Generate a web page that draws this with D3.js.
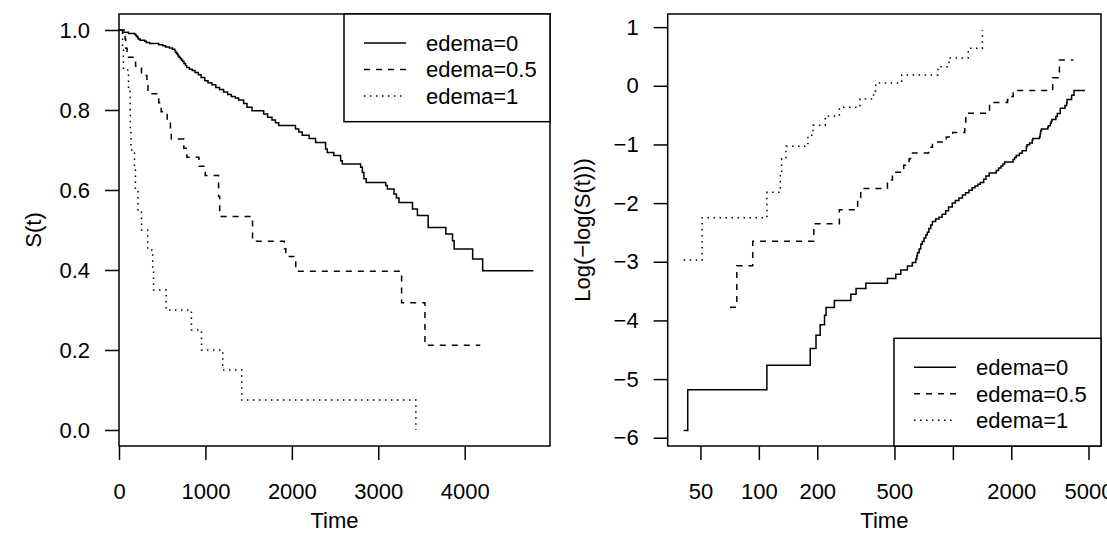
<!DOCTYPE html>
<html><head><meta charset="utf-8">
<script src="https://cdn.jsdelivr.net/npm/d3@7"></script>
<style>
body{margin:0;background:#fff}
text{font-family:"Liberation Sans",Arial,Helvetica,sans-serif;fill:#000}
</style>
</head><body>
<svg id="c" width="1107" height="551"></svg>
<script>
// ---------------- data ----------------
const groups = ["edema=0", "edema=0.5", "edema=1"];

const time0 = [41,43,110,184,197,207,218,222,245,298,317,356,460,508,539,583,618,644,652,657,
  670,683,695,710,725,738,752,769,784,815,848,880,918,950,993,1030,1075,1120,1163,1210,1257,1300,
  1346,1384,1442,1481,1539,1674,1720,1770,1810,1848,2042,2080,2120,2200,2274,2390,2410,2486,2564,2584,
  2796,2816,2834,2860,3086,3105,3182,3210,3240,3396,3453,3577,3782,3859,3878,4092,4208];
const surv0 = [0.9972,0.9944,0.9915,0.9887,0.9859,0.9831,0.9802,0.9774,0.9746,0.9718,0.9689,0.9661,0.9633,0.9605,0.9576,0.9548,0.9520,0.9492,0.9463,0.9435,
  0.9400,0.9350,0.9320,0.9280,0.9245,0.9210,0.9160,0.9110,0.9060,0.9020,0.8990,0.8940,0.8880,0.8810,0.8730,0.8680,0.8630,0.8560,0.8510,0.8450,0.8390,0.8340,
  0.8300,0.8250,0.8160,0.8070,0.7980,0.7900,0.7820,0.7750,0.7680,0.7610,0.7525,0.7450,0.7370,0.7290,0.7190,0.7025,0.6940,0.6860,0.6730,0.6650,
  0.6570,0.6440,0.6280,0.6190,0.6110,0.6025,0.5900,0.5800,0.5690,0.5525,0.5360,0.5060,0.4900,0.4730,0.4525,0.4275,0.3980];

const time05 = [71,77,93,192,260,323,335,460,488,558,595,605,750,785,925,998,1152,1165,1545,1912,1930,2045,3270,3540];
const surv05 = [0.9773,0.9545,0.9318,0.9091,0.8864,0.8636,0.8409,0.8182,0.7955,0.7727,0.7500,0.7273,0.7045,0.6818,0.6591,0.6364,0.5836,0.5340,0.4720,0.4530,0.4340,0.3970,0.3180,0.2120];

const time1 = [41,51,110,129,131,138,179,190,220,260,332,390,400,545,838,955,1200,1420,3435];
const surv1 = [0.95,0.90,0.85,0.80,0.75,0.70,0.65,0.60,0.55,0.50,0.45,0.40,0.35,0.30,0.25,0.20,0.15,0.075,0];

const followEnd = [4795, 4180, 3435];

const xTicksLeft = [0, 1000, 2000, 3000, 4000];
const yTicksLeft = [0, 0.2, 0.4, 0.6, 0.8, 1.0];
const xTicksRight = [50, 100, 200, 500, 1000, 2000, 5000];
const xLabelsRight = ["50", "100", "200", "500", "", "2000", "5000"];
const yTicksRight = [-6, -5, -4, -3, -2, -1, 0, 1];

const xTitle = "Time";
const yTitleLeft = "S(t)";
const yTitleRight = "Log(\u2212log(S(t)))";

// ---------------- drawing ----------------
const svg = d3.select("#c");
svg.append("rect").attr("width", 1107).attr("height", 551).attr("fill", "#fff");

const FS = 22, LW = 1.5;
const dashes = [null, "6,6", "1.5,4.5"];
const times = [time0, time05, time1];
const survs = [surv0, surv05, surv1];

const pTop = 14, pBottom = 446;
const PL = {x0: 119, x1: 550};
const PR = {x0: 667.7, x1: 1101};

const xL = d3.scaleLinear().domain([0, 4987]).range([PL.x0, PL.x1]);
const yL = d3.scaleLinear().domain([-0.04, 1.04]).range([pBottom, pTop]);
const xR = d3.scaleLog().domain([33.9, 5800]).range([PR.x0, PR.x1]);
const yR = d3.scaleLinear().domain([-6.141, 1.224]).range([pBottom, pTop]);
const cll = s => Math.log(-Math.log(s));

function styleAxis(g) {
  g.select(".domain").remove();
  g.selectAll(".tick line").attr("stroke", "#000").attr("stroke-width", LW);
  g.selectAll(".tick text").attr("font-size", FS).attr("fill", "#000")
    .style("font-family", "'Liberation Sans',Arial,Helvetica,sans-serif");
}

function panel(P, xs, ys, xTicks, xFmt, yTicks, yFmt, yTitle) {
  const gx = svg.append("g").attr("transform", `translate(0,${pBottom})`)
    .call(d3.axisBottom(xs).tickValues(xTicks).tickFormat(xFmt).tickSize(14).tickPadding(23.5));
  styleAxis(gx);
  const gy = svg.append("g").attr("transform", `translate(${P.x0},0)`)
    .call(d3.axisLeft(ys).tickValues(yTicks).tickFormat(yFmt).tickSize(14).tickPadding(15));
  styleAxis(gy);
  svg.append("rect").attr("x", P.x0).attr("y", pTop)
    .attr("width", P.x1 - P.x0).attr("height", pBottom - pTop)
    .attr("fill", "none").attr("stroke", "#000").attr("stroke-width", LW);
  svg.append("text").attr("x", (P.x0 + P.x1) / 2).attr("y", 528)
    .attr("text-anchor", "middle").attr("font-size", FS).text(xTitle);
  const cy = (pTop + pBottom) / 2;
  svg.append("text").attr("transform", `translate(${P.x0 - 78},${cy}) rotate(-90)`)
    .attr("text-anchor", "middle").attr("font-size", FS).text(yTitle);
}

function legend(bx0, bx1, by0, by1) {
  svg.append("rect").attr("x", bx0).attr("y", by0).attr("width", bx1 - bx0).attr("height", by1 - by0)
    .attr("fill", "#fff").attr("stroke", "#000").attr("stroke-width", LW);
  groups.forEach((gname, i) => {
    const cy = by0 + 29 + i * 26.5;
    svg.append("line").attr("x1", bx0 + 20).attr("x2", bx0 + 62).attr("y1", cy).attr("y2", cy)
      .attr("stroke", "#000").attr("stroke-width", LW)
      .attr("stroke-dasharray", dashes[i]);
    svg.append("text").attr("x", bx0 + 82).attr("y", cy + 7.8).attr("font-size", FS).text(gname);
  });
}

// left panel
panel(PL, xL, yL, xTicksLeft, d3.format("d"), yTicksLeft, d3.format(".1f"), yTitleLeft);
const lineL = d3.line().x(d => xL(d[0])).y(d => yL(d[1])).curve(d3.curveStepAfter);
times.forEach((ts, i) => {
  const pts = [[0, 1]];
  ts.forEach((t, j) => pts.push([t, survs[i][j]]));
  const last = survs[i][survs[i].length - 1];
  if (last > 0) pts.push([followEnd[i], last]);
  svg.append("path").attr("d", lineL(pts)).attr("fill", "none").attr("stroke", "#000")
    .attr("stroke-width", LW).attr("stroke-dasharray", dashes[i]);
});
legend(344, PL.x1, pTop, 121.7);

// right panel
panel(PR, xR, yR, xTicksRight, (d, i) => xLabelsRight[i], yTicksRight,
  d => d < 0 ? "\u2212" + Math.abs(d) : String(d), yTitleRight);
const lineR = d3.line().x(d => xR(d[0])).y(d => yR(cll(d[1]))).curve(d3.curveStepAfter);
times.forEach((ts, i) => {
  const pts = [];
  ts.forEach((t, j) => { if (survs[i][j] > 0) pts.push([t, survs[i][j]]); });
  const last = survs[i][survs[i].length - 1];
  if (last > 0) pts.push([followEnd[i], last]);
  svg.append("path").attr("d", lineR(pts)).attr("fill", "none").attr("stroke", "#000")
    .attr("stroke-width", LW).attr("stroke-dasharray", dashes[i]);
});
legend(894, PR.x1, 338.3, pBottom);
</script>
</body></html>
